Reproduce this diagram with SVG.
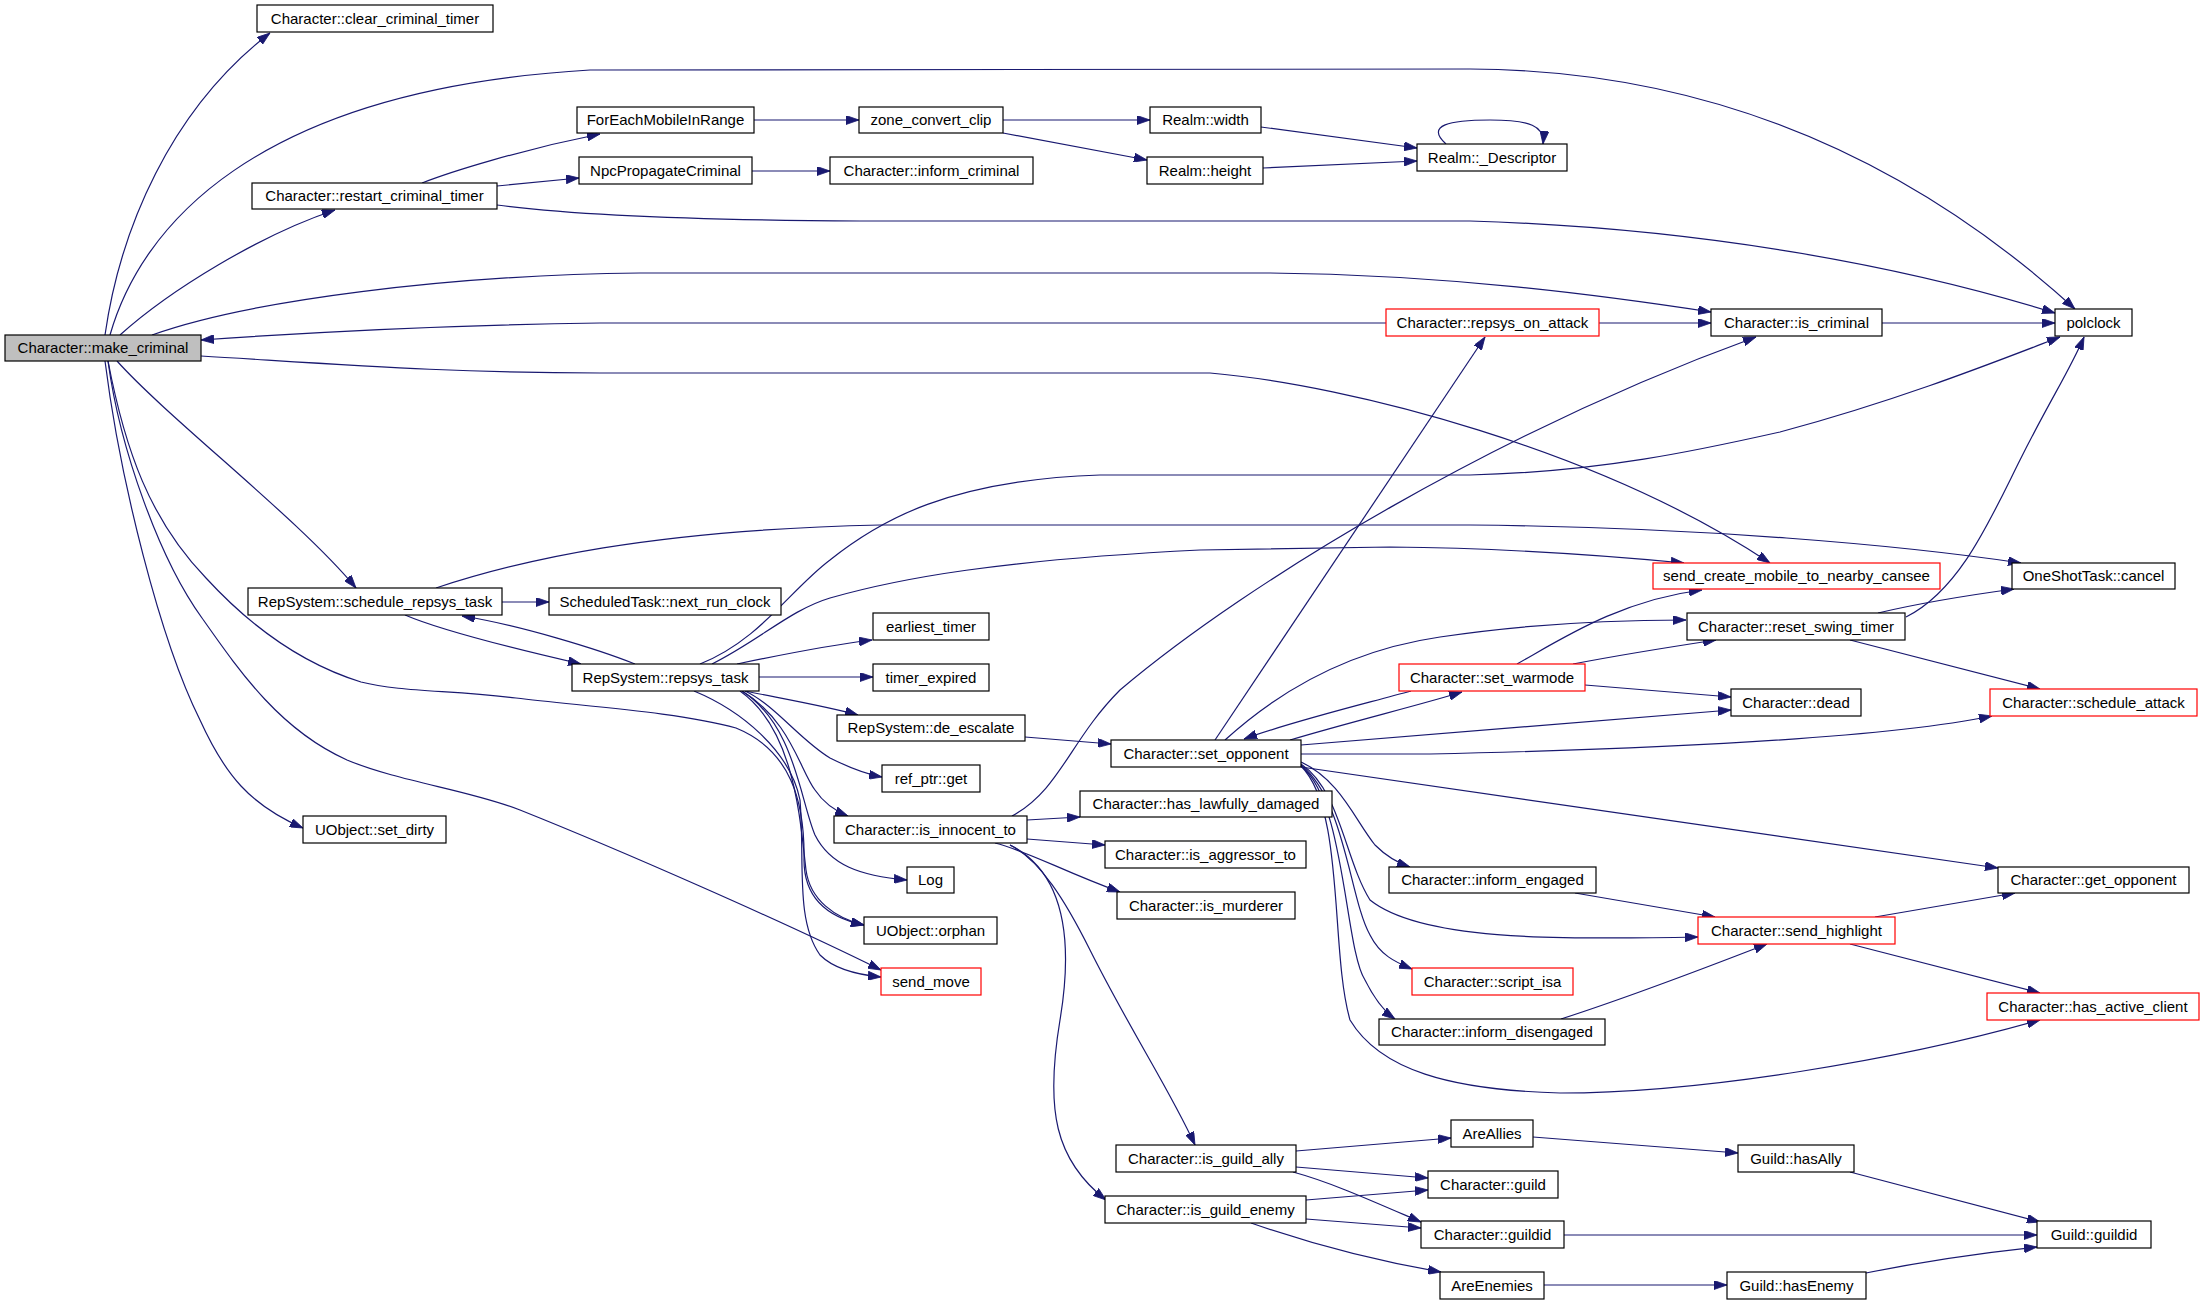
<svg xmlns="http://www.w3.org/2000/svg" width="2205" height="1304" viewBox="0 0 2205 1304">
<style>
.n rect{fill:#fff;stroke:#000;stroke-width:1.2}
.n.r rect{stroke:#ff0000}
.n.g rect{fill:#bfbfbf}
text{font-family:"Liberation Sans",Arial,sans-serif;font-size:15px;text-anchor:middle;fill:#000}
.e{fill:none;stroke:#191970;stroke-width:1.2;marker-end:url(#a)}
</style>
<defs>
<marker id="a" markerWidth="13" markerHeight="9" refX="13" refY="4.5" orient="auto" markerUnits="userSpaceOnUse"><path d="M0,0 L13,4.5 L0,9 z" fill="#191970" stroke="#191970" stroke-width="0.8"/></marker>
</defs>
<rect width="2205" height="1304" fill="#fff"/>
<g id="connectors">
<path class="e" d="M105,335 C120,230 170,110 270,33"/>
<path class="e" d="M110,335 C140,230 250,90 590,70 L1470,69 C1700,70 1900,150 2075,309"/>
<path class="e" d="M120,335 C170,290 260,235 335,210"/>
<path class="e" d="M152,335 C250,300 450,275 640,273 L1270,273 C1450,275 1600,295 1711,312"/>
<path class="e" d="M1386,323 L600,323 C450,325 300,333 201,340"/>
<path class="e" d="M201,356 C350,365 450,373 600,373 L1210,373 C1350,385 1600,450 1770,563"/>
<path class="e" d="M117,361 C170,420 300,520 356,588"/>
<path class="e" d="M105,361 C120,480 160,640 200,720 C225,775 250,805 303,828"/>
<path class="e" d="M108,361 C120,450 160,560 202,618 C240,672 280,730 347,760 C400,782 470,790 520,810 C620,850 780,920 881,970"/>
<path class="e" d="M108,361 C125,450 150,520 206,578 C240,615 290,660 361,682 C400,692 450,690 516,698 C580,706 680,712 736,728 C790,750 805,800 804,860 C804,900 830,918 864,925"/>
<path class="e" d="M422,183 C450,172 520,150 600,134"/>
<path class="e" d="M497,186 L579,178"/>
<path class="e" d="M497,205 C550,212 650,220 860,221 L1470,221 C1700,228 1900,265 2055,313"/>
<path class="e" d="M754,120 L859,120"/>
<path class="e" d="M1003,120 L1150,120"/>
<path class="e" d="M1003,133 L1147,160"/>
<path class="e" d="M752,171 L830,171"/>
<path class="e" d="M1261,127 L1417,148"/>
<path class="e" d="M1263,168 L1417,161"/>
<path class="e" d="M1446,144 C1425,125 1450,120 1490,120 C1530,120 1545,126 1543,144"/>
<path class="e" d="M1599,323 L1711,323"/>
<path class="e" d="M1882,323 L2055,323"/>
<path class="e" d="M502,602 L549,602"/>
<path class="e" d="M405,615 C440,630 520,650 581,664"/>
<path class="e" d="M635,664 C600,650 520,625 462,616"/>
<path class="e" d="M436,588 C520,560 650,530 880,525 L1470,525 C1700,527 1900,545 2021,563"/>
<path class="e" d="M700,664 C760,640 790,590 830,560 C880,520 950,480 1100,475 L1470,475 C1600,472 1700,450 1780,432 C1900,400 2000,360 2060,337"/>
<path class="e" d="M712,664 C760,640 790,610 830,598 C900,578 1000,560 1200,550 L1390,547 C1500,548 1600,555 1684,563"/>
<path class="e" d="M737,664 C780,655 830,645 872,640"/>
<path class="e" d="M759,677 L873,677"/>
<path class="e" d="M745,691 C790,700 830,707 858,715"/>
<path class="e" d="M745,691 C775,705 800,740 830,758 C850,768 865,774 882,777"/>
<path class="e" d="M742,691 C790,720 800,770 815,790 C825,805 838,812 848,816"/>
<path class="e" d="M742,691 C795,725 800,800 815,835 C830,865 860,876 907,880"/>
<path class="e" d="M740,691 C795,730 800,820 806,870 C810,900 835,918 864,925"/>
<path class="e" d="M694,691 C740,710 790,750 800,800 C805,860 795,920 820,955 C835,970 860,975 881,977"/>
<path class="e" d="M1025,737 L1111,744"/>
<path class="e" d="M1012,816 C1060,790 1070,740 1120,690 C1250,580 1500,430 1756,337"/>
<path class="e" d="M1027,820 L1080,817"/>
<path class="e" d="M1027,839 L1105,845"/>
<path class="e" d="M995,843 C1030,852 1060,870 1120,892"/>
<path class="e" d="M1010,845 C1040,860 1065,900 1090,950 C1130,1030 1170,1090 1195,1145"/>
<path class="e" d="M1010,845 C1060,870 1075,930 1060,1020 C1045,1110 1055,1160 1106,1200"/>
<path class="e" d="M1215,740 L1485,337"/>
<path class="e" d="M1290,740 C1350,722 1420,705 1462,692"/>
<path class="e" d="M1411,691 C1360,705 1290,722 1244,739"/>
<path class="e" d="M1225,740 C1280,690 1350,650 1440,637 C1520,625 1600,620 1686,620"/>
<path class="e" d="M1301,745 L1731,710"/>
<path class="e" d="M1301,754 L1430,754 C1700,748 1900,735 1992,716"/>
<path class="e" d="M1301,767 L1998,868"/>
<path class="e" d="M1301,762 C1340,780 1355,820 1375,845 C1385,855 1395,862 1410,867"/>
<path class="e" d="M1301,764 C1340,790 1345,860 1370,900 C1420,940 1550,940 1698,937"/>
<path class="e" d="M1301,765 C1345,800 1350,900 1370,935 C1380,955 1395,962 1412,969"/>
<path class="e" d="M1301,766 C1345,800 1345,950 1365,980 C1375,1000 1385,1012 1395,1019"/>
<path class="e" d="M1301,766 C1345,810 1330,950 1350,1020 C1380,1070 1450,1090 1560,1093 C1700,1093 1900,1060 2040,1020"/>
<path class="e" d="M1517,664 C1560,640 1620,600 1702,590"/>
<path class="e" d="M1573,664 C1620,655 1670,647 1716,640"/>
<path class="e" d="M1585,685 L1731,697"/>
<path class="e" d="M1878,613 C1920,603 1970,595 2014,589"/>
<path class="e" d="M1906,617 C1960,590 1990,520 2020,460 C2050,400 2070,370 2084,337"/>
<path class="e" d="M1850,640 L2040,689"/>
<path class="e" d="M1575,893 L1715,917"/>
<path class="e" d="M1561,1019 C1620,1000 1700,970 1767,944"/>
<path class="e" d="M1875,917 L2015,893"/>
<path class="e" d="M1850,944 L2040,993"/>
<path class="e" d="M1296,1151 L1451,1138"/>
<path class="e" d="M1296,1167 L1428,1178"/>
<path class="e" d="M1293,1172 C1330,1182 1370,1200 1421,1222"/>
<path class="e" d="M1306,1200 L1428,1190"/>
<path class="e" d="M1306,1219 L1421,1228"/>
<path class="e" d="M1251,1223 C1300,1240 1370,1260 1441,1272"/>
<path class="e" d="M1533,1137 L1738,1153"/>
<path class="e" d="M1850,1172 L2040,1222"/>
<path class="e" d="M1564,1235 L2037,1235"/>
<path class="e" d="M1544,1285 L1727,1285"/>
<path class="e" d="M1866,1273 C1930,1260 1990,1252 2037,1247"/>
</g>
<g id="n_make_criminal" class="n g"><rect x="5" y="335" width="196" height="26"/><text x="103" y="353">Character::make_criminal</text></g>
<g id="n_clear_criminal_timer" class="n"><rect x="257" y="5" width="236" height="27"/><text x="375" y="24">Character::clear_criminal_timer</text></g>
<g id="n_ForEachMobileInRange" class="n"><rect x="577" y="107" width="177" height="26"/><text x="665.5" y="125">ForEachMobileInRange</text></g>
<g id="n_NpcPropagateCriminal" class="n"><rect x="579" y="157" width="173" height="27"/><text x="665.5" y="176">NpcPropagateCriminal</text></g>
<g id="n_restart_criminal_timer" class="n"><rect x="252" y="183" width="245" height="26"/><text x="374.5" y="201">Character::restart_criminal_timer</text></g>
<g id="n_zone_convert_clip" class="n"><rect x="859" y="107" width="144" height="26"/><text x="931" y="125">zone_convert_clip</text></g>
<g id="n_Realm_width" class="n"><rect x="1150" y="107" width="111" height="26"/><text x="1205.5" y="125">Realm::width</text></g>
<g id="n_Realm_height" class="n"><rect x="1147" y="157" width="116" height="27"/><text x="1205" y="176">Realm::height</text></g>
<g id="n_inform_criminal" class="n"><rect x="830" y="157" width="203" height="27"/><text x="931.5" y="176">Character::inform_criminal</text></g>
<g id="n_Realm_Descriptor" class="n"><rect x="1417" y="144" width="150" height="27"/><text x="1492" y="163">Realm::_Descriptor</text></g>
<g id="n_repsys_on_attack" class="n r"><rect x="1386" y="309" width="213" height="27"/><text x="1492.5" y="328">Character::repsys_on_attack</text></g>
<g id="n_is_criminal" class="n"><rect x="1711" y="309" width="171" height="27"/><text x="1796.5" y="328">Character::is_criminal</text></g>
<g id="n_polclock" class="n"><rect x="2055" y="309" width="77" height="27"/><text x="2093.5" y="328">polclock</text></g>
<g id="n_schedule_repsys_task" class="n"><rect x="248" y="588" width="254" height="27"/><text x="375" y="607">RepSystem::schedule_repsys_task</text></g>
<g id="n_next_run_clock" class="n"><rect x="549" y="588" width="232" height="27"/><text x="665" y="607">ScheduledTask::next_run_clock</text></g>
<g id="n_repsys_task" class="n"><rect x="572" y="664" width="187" height="27"/><text x="665.5" y="683">RepSystem::repsys_task</text></g>
<g id="n_set_dirty" class="n"><rect x="303" y="816" width="143" height="27"/><text x="374.5" y="835">UObject::set_dirty</text></g>
<g id="n_earliest_timer" class="n"><rect x="873" y="613" width="116" height="27"/><text x="931" y="632">earliest_timer</text></g>
<g id="n_timer_expired" class="n"><rect x="873" y="664" width="116" height="27"/><text x="931" y="683">timer_expired</text></g>
<g id="n_de_escalate" class="n"><rect x="837" y="715" width="188" height="26"/><text x="931" y="733">RepSystem::de_escalate</text></g>
<g id="n_ref_ptr_get" class="n"><rect x="882" y="765" width="98" height="27"/><text x="931" y="784">ref_ptr::get</text></g>
<g id="n_has_lawfully_damaged" class="n"><rect x="1080" y="791" width="252" height="26"/><text x="1206" y="809">Character::has_lawfully_damaged</text></g>
<g id="n_is_innocent_to" class="n"><rect x="834" y="816" width="193" height="27"/><text x="930.5" y="835">Character::is_innocent_to</text></g>
<g id="n_is_aggressor_to" class="n"><rect x="1105" y="841" width="201" height="27"/><text x="1205.5" y="860">Character::is_aggressor_to</text></g>
<g id="n_set_opponent" class="n"><rect x="1111" y="740" width="190" height="27"/><text x="1206" y="759">Character::set_opponent</text></g>
<g id="n_set_warmode" class="n r"><rect x="1399" y="664" width="186" height="27"/><text x="1492" y="683">Character::set_warmode</text></g>
<g id="n_send_create_mobile" class="n r"><rect x="1653" y="563" width="287" height="26"/><text x="1796.5" y="581">send_create_mobile_to_nearby_cansee</text></g>
<g id="n_OneShotTask_cancel" class="n"><rect x="2012" y="563" width="163" height="26"/><text x="2093.5" y="581">OneShotTask::cancel</text></g>
<g id="n_reset_swing_timer" class="n"><rect x="1687" y="613" width="218" height="27"/><text x="1796" y="632">Character::reset_swing_timer</text></g>
<g id="n_dead" class="n"><rect x="1731" y="689" width="130" height="27"/><text x="1796" y="708">Character::dead</text></g>
<g id="n_schedule_attack" class="n r"><rect x="1990" y="689" width="207" height="27"/><text x="2093.5" y="708">Character::schedule_attack</text></g>
<g id="n_get_opponent" class="n"><rect x="1998" y="867" width="191" height="26"/><text x="2093.5" y="885">Character::get_opponent</text></g>
<g id="n_Log" class="n"><rect x="907" y="867" width="47" height="26"/><text x="930.5" y="885">Log</text></g>
<g id="n_orphan" class="n"><rect x="864" y="917" width="133" height="27"/><text x="930.5" y="936">UObject::orphan</text></g>
<g id="n_send_move" class="n r"><rect x="881" y="968" width="100" height="27"/><text x="931" y="987">send_move</text></g>
<g id="n_is_murderer" class="n"><rect x="1117" y="892" width="178" height="27"/><text x="1206" y="911">Character::is_murderer</text></g>
<g id="n_inform_engaged" class="n"><rect x="1389" y="867" width="207" height="26"/><text x="1492.5" y="885">Character::inform_engaged</text></g>
<g id="n_send_highlight" class="n r"><rect x="1698" y="917" width="197" height="27"/><text x="1796.5" y="936">Character::send_highlight</text></g>
<g id="n_script_isa" class="n r"><rect x="1412" y="968" width="161" height="27"/><text x="1492.5" y="987">Character::script_isa</text></g>
<g id="n_inform_disengaged" class="n"><rect x="1379" y="1019" width="226" height="26"/><text x="1492" y="1037">Character::inform_disengaged</text></g>
<g id="n_has_active_client" class="n r"><rect x="1987" y="993" width="212" height="27"/><text x="2093" y="1012">Character::has_active_client</text></g>
<g id="n_is_guild_ally" class="n"><rect x="1116" y="1145" width="180" height="27"/><text x="1206" y="1164">Character::is_guild_ally</text></g>
<g id="n_is_guild_enemy" class="n"><rect x="1105" y="1196" width="201" height="27"/><text x="1205.5" y="1215">Character::is_guild_enemy</text></g>
<g id="n_AreAllies" class="n"><rect x="1451" y="1120" width="82" height="27"/><text x="1492" y="1139">AreAllies</text></g>
<g id="n_Guild_hasAlly" class="n"><rect x="1738" y="1145" width="116" height="27"/><text x="1796" y="1164">Guild::hasAlly</text></g>
<g id="n_Character_guild" class="n"><rect x="1428" y="1171" width="130" height="27"/><text x="1493" y="1190">Character::guild</text></g>
<g id="n_Character_guildid" class="n"><rect x="1421" y="1221" width="143" height="27"/><text x="1492.5" y="1240">Character::guildid</text></g>
<g id="n_Guild_guildid" class="n"><rect x="2037" y="1221" width="114" height="27"/><text x="2094" y="1240">Guild::guildid</text></g>
<g id="n_AreEnemies" class="n"><rect x="1440" y="1272" width="104" height="27"/><text x="1492" y="1291">AreEnemies</text></g>
<g id="n_Guild_hasEnemy" class="n"><rect x="1727" y="1272" width="139" height="27"/><text x="1796.5" y="1291">Guild::hasEnemy</text></g>
</svg>
